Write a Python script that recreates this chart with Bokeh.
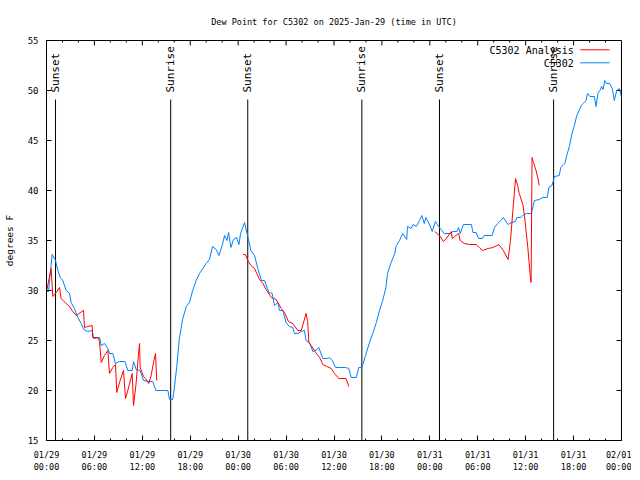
import math
from bokeh.plotting import figure
from bokeh.models import FixedTicker, Range1d
from bokeh.core.properties import value
from bokeh.embed import file_html
from bokeh.resources import INLINE

FONT = "DejaVu Sans Mono"
NAN = float("nan")

# ---- data (hours since 2025-01-29 00:00 UTC, degrees F) ----
obs_hours = [0, 0.25, 0.71, 1.13, 1.42, 1.71, 2.04, 2.46, 2.88, 3.09, 3.5, 3.92, 4.34, 4.67, 5.17, 5.72,
             5.89, 6.64, 6.85, 7.26, 7.68, 7.89, 8.3, 8.64, 9.14, 9.81, 10.18, 10.73, 10.9, 11.23, 11.73,
             12.15, 12.9, 13.3, 13.7, 15.2, 15.4, 15.8, 16.0, 16.3, 16.65, 17.07, 17.5, 17.9, 18.3, 18.74,
             19.16, 19.57, 20.0, 20.4, 20.8, 21.25, 21.6, 22.0, 22.3, 22.6, 22.8, 23.1, 23.4, 23.8, 24.1,
             24.3, 24.8, 25.2, 25.6, 26.05, 26.46, 26.9, 27.3, 27.84, 28.26, 28.55, 28.97, 29.18, 29.6,
             30.0, 30.4, 30.84, 31.05, 31.47, 31.89, 32.3, 32.5, 32.93, 33.35, 33.85, 34.1, 34.6, 35.1,
             35.44, 35.78, 36.2, 36.7, 37.45, 37.85, 38.15, 38.8, 39.1, 39.5, 39.95, 40.4, 40.9, 41.3,
             41.7, 42.1, 42.5, 42.7, 43.16, 43.6, 43.8, 44.2, 44.6, 45.1, 45.2, 45.66, 45.9, 46.3, 46.7,
             47.0, 47.3, 47.5, 47.9, 48.3, 48.7, 49.2, 49.8, 50.5, 50.9, 51.4, 51.6, 51.8, 52.2, 53.2,
             53.4, 53.8, 54.1, 54.6, 54.8, 55.8, 56.1, 56.5, 56.9, 57.2, 57.8, 58.2, 58.7, 58.9, 59.4,
             59.6, 60.1, 60.7, 61.1, 61.7, 62.1, 62.7, 62.9, 63.3, 63.6, 64.2, 64.4, 64.9, 65.15, 65.5,
             65.8, 66.1, 66.4, 66.7, 66.95, 67.2, 67.55, 67.75, 68.05, 68.6, 68.8, 69.05, 69.3, 69.5,
             69.7, 69.9, 70.1, 70.5, 70.85, 71.1, 71.4, 71.75, 72.0]
obs_dewpt = [29.9, 29.9, 33.6, 33.0, 32.0, 31.3, 31.0, 30.0, 29.7, 28.8, 28.2, 27.3, 26.7, 26.1, 25.9, 26.0,
             25.2, 25.3, 24.5, 24.7, 24.2, 23.7, 23.7, 22.7, 22.9, 22.9, 22.0, 22.0, 22.9, 22.1, 22.0,
             21.0, 20.9, 20.9, 20.0, 20.0, 19.1, 19.1, 20.2, 22.3, 25.3, 27.2, 28.4, 28.8, 30.0, 31.0,
             31.7, 32.2, 32.7, 33.1, 34.4, 34.1, 33.5, 34.5, 35.5, 35.0, 35.8, 34.3, 35.1, 35.3, 34.6,
             35.7, 36.8, 35.4, 34.0, 33.5, 32.2, 31.0, 31.0, 29.8, 29.7, 28.5, 28.8, 28.0, 28.0,
             26.8, 26.4, 26.3, 25.7, 25.7, 25.9, 26.0, 25.0, 24.8, 23.9, 24.1, 24.3, 23.2, 23.2,
             23.3, 23.0, 22.3, 22.3, 22.3, 22.2, 21.3, 21.3, 22.3, 22.3, 23.5, 24.7, 25.8, 26.8,
             28.0, 29.0, 30.3, 31.7, 32.8, 33.7, 34.5, 35.0, 35.7, 35.1, 36.4, 36.2, 36.6, 36.4, 37.0,
             37.5, 36.7, 37.3, 36.7, 35.9, 36.9, 36.3, 35.7, 35.7, 35.9, 35.9, 36.3, 35.7, 36.6, 36.6,
             35.8, 35.8, 35.2, 35.2, 35.5, 35.5, 36.3, 36.7, 37.0, 37.3, 36.6, 36.8, 36.9, 37.3, 37.3,
             37.5, 37.7, 37.7, 39.0, 39.1, 39.3, 39.3, 40.3, 40.5, 41.4, 41.5, 42.3, 42.7, 43.5, 44.5,
             45.7, 46.5, 47.5, 48.0, 48.5, 48.7, 49.0, 49.7, 49.4, 49.4, 48.4, 49.7, 50.0, 50.4,
             50.1, 51.0, 50.7, 50.7, 50.2, 49.0, 50.0, 50.2, 49.3]

ana_hours = [0, 0.58, 0.79, 1.21, 1.63, 1.83, 2.46, 2.88, 3.3, 3.71, 4.05, 4.63, 4.76, 5.17, 5.72, 5.8,
             6.43, 6.64, 6.85, 7.26, 7.68, 7.89, 8.3, 8.64, 8.8, 9.22, 9.64, 9.9, 10.18, 10.73, 10.9,
             11.23, 11.48, 11.65, 11.73, 12.15, 12.4, 12.8, 13.1, 13.4, 13.65, 13.8,
             19.0,
             24.6, 24.9, 25.2, 25.6, 26.05, 26.67, 27.1, 27.5, 28.14, 28.76, 29.4, 29.8, 30.3, 30.84,
             31.47, 31.9, 32.5, 32.7, 32.85, 33.15, 33.7, 34.2, 34.6, 35.1, 35.65, 36.07, 36.6, 37.5, 37.85,
             43.0,
             48.6, 48.9, 49.2, 49.7, 50.05, 50.7, 50.8, 51.1, 51.6, 51.8, 52.3, 52.97, 53.8, 54.2, 54.6,
             55.3, 55.9, 56.65, 57.2, 57.8, 58.1, 58.4, 58.73, 59.0, 59.2, 59.65, 59.85, 60.27, 60.57,
             60.68, 60.8, 60.98, 61.3, 61.5, 61.7]
ana_dewpt = [29.9, 32.2, 29.4, 29.8, 30.3, 29.2, 28.7, 28.4, 27.9, 27.5, 27.7, 28.0, 26.3, 26.4, 26.5, 25.3,
             25.3, 24.9, 22.8, 23.5, 24.0, 21.7, 22.3, 22.6, 19.8, 21.0, 22.0, 19.2, 20.0, 21.7, 18.5,
             20.8, 23.3, 24.7, 22.3, 21.4, 21.2, 20.7, 21.5, 22.8, 23.7, 21.0,
             NAN,
             33.6, 33.6, 33.0, 32.5, 32.2, 31.1, 30.7, 30.1, 29.3, 29.1, 28.2, 27.8, 26.9, 26.7,
             26.0, 26.0, 27.7, 26.9, 24.8, 24.5, 23.8, 23.3, 22.6, 22.4, 22.2, 21.7, 21.2, 21.2, 20.4,
             NAN,
             35.9, 35.7, 35.5, 34.9, 35.2, 35.9, 35.2, 35.4, 35.7, 35.0, 34.7, 34.6, 34.6, 34.3, 34.0,
             34.2, 34.3, 34.6, 34.0, 33.1, 35.0, 38.0, 41.2, 40.5, 39.7, 38.6, 37.5, 34.3, 31.5,
             30.8, 43.3, 42.8, 42.0, 41.3, 40.5]

sun_hours = [1.13, 15.55, 25.2, 39.49, 49.21, 63.5]
sun_labels = ["Sunset", "Sunrise", "Sunset", "Sunrise", "Sunset", "Sunrise"]

tick_hours = [0, 6, 12, 18, 24, 30, 36, 42, 48, 54, 60, 66, 72]
tick_labels = ["01/29\n00:00", "01/29\n06:00", "01/29\n12:00", "01/29\n18:00",
               "01/30\n00:00", "01/30\n06:00", "01/30\n12:00", "01/30\n18:00",
               "01/31\n00:00", "01/31\n06:00", "01/31\n12:00", "01/31\n18:00",
               "02/01\n00:00"]
minor_hours = list(range(0, 73, 2))
y_ticks = [15, 20, 25, 30, 35, 40, 45, 50, 55]

series_names = ["C5302 Analysis", "C5302"]
series_colors = ["#ff0000", "#0080ff"]

X0, X1, Y0, Y1 = 0, 72, 15, 55
FRAME_W, FRAME_H = 575, 400
HPX = (X1 - X0) / FRAME_W   # hours per pixel
VPX = (Y1 - Y0) / FRAME_H   # degrees per pixel

# ---- figure ----
p = figure(frame_width=FRAME_W, frame_height=FRAME_H,
           x_range=Range1d(X0, X1), y_range=Range1d(Y0, Y1),
           output_backend="svg", toolbar_location=None,
           min_border_left=39, min_border_top=40, min_border_right=10, min_border_bottom=10,
           title="Dew Point for C5302 on 2025-Jan-29 (time in UTC)")
p.background_fill_color = "white"
p.border_fill_color = "white"
p.outline_line_color = "black"
p.xgrid.visible = False
p.ygrid.visible = False

p.title.text_font = FONT
p.title.text_font_size = "8.5px"
p.title.text_font_style = "normal"
p.title.align = "center"
p.title.text_color = "black"
p.title.standoff = 27

xt = FixedTicker(ticks=tick_hours, minor_ticks=minor_hours)
yt = FixedTicker(ticks=y_ticks, minor_ticks=[])


def style_axis(ax, ticker):
    ax.ticker = ticker
    ax.major_tick_in = 5
    ax.major_tick_out = 0
    ax.minor_tick_in = 2
    ax.minor_tick_out = 0
    ax.axis_line_color = "black"
    ax.major_tick_line_color = "black"
    ax.minor_tick_line_color = "black"
    ax.major_label_text_font = FONT
    ax.major_label_text_color = "black"


xb = p.xaxis[0]
style_axis(xb, xt)
xb.major_label_overrides = {h: lab for h, lab in zip(tick_hours, tick_labels)}
xb.major_label_text_font_size = "8.5px"
xb.major_label_standoff = 9

yl = p.yaxis[0]
style_axis(yl, yt)
yl.major_label_text_font_size = "9px"
yl.major_label_standoff = 8
yl.axis_label = "degrees F"
yl.axis_label_text_font = FONT
yl.axis_label_text_font_size = "9.5px"
yl.axis_label_text_font_style = "normal"
yl.axis_label_text_color = "black"
yl.axis_label_standoff = 10

# inward tick marks on the top and right edges of the frame
minor_only = [h for h in minor_hours if h not in tick_hours]
p.segment(x0=tick_hours, y0=[Y1] * len(tick_hours), x1=tick_hours,
          y1=[Y1 - 5 * VPX] * len(tick_hours), line_color="black", line_width=1)
p.segment(x0=minor_only, y0=[Y1] * len(minor_only), x1=minor_only,
          y1=[Y1 - 2 * VPX] * len(minor_only), line_color="black", line_width=1)
p.segment(x0=[X1] * len(y_ticks), y0=y_ticks, x1=[X1 - 5 * HPX] * len(y_ticks), y1=y_ticks,
          line_color="black", line_width=1)

# sunrise / sunset markers
p.segment(x0=sun_hours, y0=[Y0] * len(sun_hours), x1=sun_hours, y1=[49.1] * len(sun_hours),
          line_color="black", line_width=1)
p.text(x=sun_hours, y=[49.8] * len(sun_hours), text=sun_labels, angle=math.pi / 2,
       text_align="left", text_baseline="middle", text_font=value(FONT),
       text_font_size="11px", text_color="black")

# series
p.line(obs_hours, obs_dewpt, line_color=series_colors[1], line_width=1)
p.line(ana_hours, ana_dewpt, line_color=series_colors[0], line_width=1)

# legend (text left of sample line, as in the reference)
p.text(x=[66.03, 66.03], y=[54.0, 52.75], text=series_names, text_align="right",
       text_baseline="middle", text_font=value(FONT), text_font_size="10px", text_color="black")
p.segment(x0=[66.83, 66.83], y0=[54.07, 52.77], x1=[70.5, 70.5], y1=[54.07, 52.77],
          line_color=series_colors, line_width=1)

open("out.html", "w").write(file_html(p, INLINE))
